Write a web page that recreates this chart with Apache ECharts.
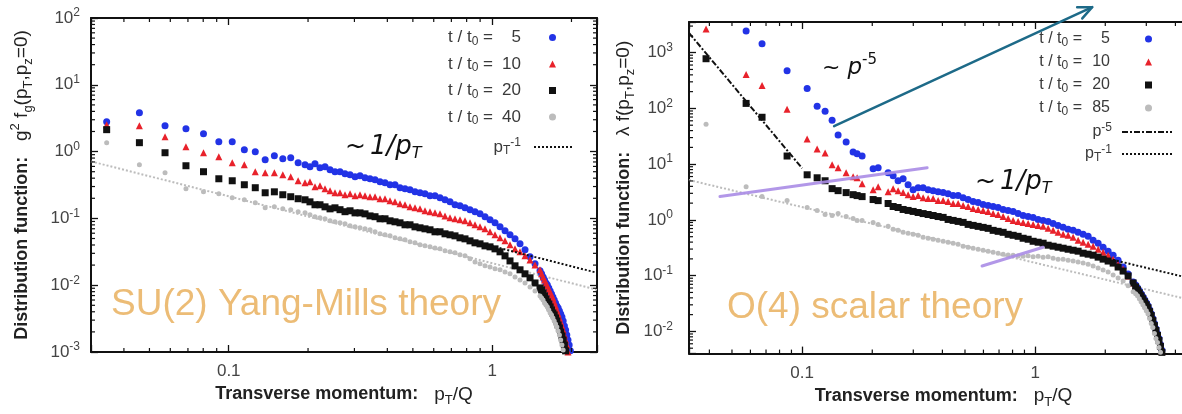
<!DOCTYPE html>
<html>
<head>
<meta charset="utf-8">
<script src="https://cdn.jsdelivr.net/npm/echarts@6/dist/echarts.min.js"></script>
<style>
  html, body { margin: 0; padding: 0; background: #fff; overflow: hidden; width: 1182px; height: 414px; }
  #chart { width: 1230px; height: 414px; }
</style>
</head>
<body>
<div id="chart"></div>
<script>
// ---------- SU(2) Yang-Mills panel: g^2 f_g(pT, pz=0) vs pT/Q ----------
const su2Momenta = [0.0344,0.0458,0.0573,0.0688,0.0802,0.0917,0.1031,0.1146,0.1261,0.1375,0.149,0.1604,0.1719,0.1834,
  0.1948,0.2034,0.2125,0.222,0.232,0.2424,0.2531,0.2645,0.2763,0.2887,0.3016,0.315,0.3291,0.3438,0.3592,0.3752,0.392,0.4095,0.4277,0.4468,
  0.4668,0.4876,0.5094,0.5322,0.5559,0.5808,0.6067,0.6339,0.6622,0.6918,0.7226,0.7548,0.7886,0.8238,0.8607,0.8992,0.9393,0.9813,1.0252,1.071,
  1.1189,1.1687,1.221,1.2756,1.3326,1.3922,1.4544,1.5191,
  1.54,1.56,1.58,1.6,1.62,1.64,1.66,1.68,1.7,1.72,1.74,1.76,1.78,1.8,1.82,1.84,1.86,1.88,1.9,1.92,1.94,1.96,1.98];

const su2T5 = [2.81,3.83,2.44,2.2,1.85,1.41,1.41,1.07,0.996,0.756,0.868,0.782,0.81,0.682,
  0.636,0.594,0.659,0.574,0.594,0.535,0.5,0.5,0.466,0.45,0.42,0.435,0.406,0.392,0.379,0.354,0.342,0.319,0.319,0.288,
  0.278,0.268,0.25,0.242,0.234,0.218,0.218,0.204,0.19,0.177,0.16,0.154,0.144,0.135,0.126,0.117,0.106,0.0953,0.0859,0.0748,
  0.0652,0.0568,0.0494,0.0416,0.0338,0.0266,0.0209,0.0164,
  0.0148,0.0133,0.012,0.0108,0.0101,0.00911,0.00821,0.00741,0.00668,0.00602,0.00543,0.00489,0.00457,0.00412,0.00371,0.00335,0.00291,0.00245,0.00214,0.0018,0.00151,0.00127,0.00104];

const su2T10 = [2.53,2.44,1.67,1.18,0.962,0.838,0.682,0.636,0.5,0.483,0.483,0.45,0.42,0.366,
  0.342,0.354,0.298,0.308,0.278,0.259,0.242,0.242,0.226,0.234,0.218,0.226,0.218,0.211,0.211,0.197,0.197,0.184,0.177,0.166,
  0.16,0.149,0.144,0.139,0.13,0.126,0.121,0.117,0.109,0.102,0.0987,0.0953,0.092,0.0859,0.0802,0.0748,0.0698,0.063,0.0568,0.0512,
  0.0461,0.0402,0.035,0.0316,0.0275,0.0239,0.0201,0.017,
  0.0148,0.0133,0.012,0.0108,0.00976,0.0088,0.00793,0.00715,0.00645,0.00562,0.00489,0.00426,0.00371,0.00323,0.00282,0.00245,0.00214,0.0018,0.00151,0.00127,0.001,null,null];

const su2T20 = [2.13,1.36,0.962,0.614,0.5,0.392,0.366,0.319,0.288,0.242,0.25,0.226,0.211,0.197,
  0.19,0.177,0.16,0.16,0.149,0.139,0.144,0.135,0.126,0.13,0.121,0.121,0.117,0.109,0.106,0.0987,0.0987,0.092,0.0889,0.0859,
  0.0802,0.0802,0.0748,0.0723,0.0698,0.0675,0.063,0.063,0.0588,0.0568,0.0548,0.0512,0.0494,0.0461,0.0431,0.0416,0.0388,0.0375,0.035,0.0316,
  0.0275,0.0231,0.0195,0.017,0.0148,0.0129,0.0108,0.00911,
  0.0085,0.00766,0.00691,0.00623,0.00562,0.00524,0.00473,0.00426,0.00384,0.00359,0.00323,0.00291,0.00254,0.00229,0.00199,0.00174,0.00151,0.00127,0.00104,null,null,null,null];

const su2T40 = [1.36,0.636,0.483,0.278,0.25,0.234,0.204,0.19,0.171,0.144,0.149,0.139,0.135,0.126,
  0.121,0.113,0.106,0.102,0.0987,0.092,0.0889,0.0859,0.083,0.0774,0.0748,0.0723,0.0698,0.0675,0.063,0.0588,0.0568,0.0548,0.0512,0.0494,
  0.0478,0.0446,0.0431,0.0402,0.0388,0.0375,0.0362,0.035,0.0327,0.0316,0.0305,0.0285,0.0275,0.0248,0.0223,0.0209,0.0195,0.0188,0.0176,0.017,
  0.0158,0.0148,0.0133,0.012,0.0108,0.00943,0.00821,0.00691,
  0.00645,0.00602,0.00543,0.00506,0.00473,0.00426,0.00384,0.00359,0.00323,0.00291,0.00263,0.00237,0.00206,0.0018,0.00151,0.00127,0.00107,null,null,null,null,null,null];

// 1/pT reference lines (end points)
const su2PowerLaw = [[0.9, 0.0427], [2.5, 0.01536]];
const su2PowerLawGuide = [[0.03, 0.713], [2.5, 0.00856]];

// ---------- O(4) scalar panel: lambda f(pT, pz=0) vs pT/Q ----------
const o4Momenta = [0.0387,0.0575,0.0673,0.0862,0.1051,0.116,0.1255,0.1345,0.1427,0.1545,0.1655,0.1722,0.1809,0.2017,0.212,0.2339,
  0.2458,0.2582,0.2713,0.285,0.2995,0.3147,0.3306,0.3474,0.3649,0.3834,0.4029,0.4232,0.4447,0.4672,0.4909,0.5158,0.5419,0.5694,0.5982,0.6285,
  0.6603,0.6938,0.729,0.7659,0.8047,0.8453,0.8882,0.9333,0.9804,1.0302,1.0822,1.1371,1.1947,1.2551,1.3188,1.3855,1.4558,1.5293,1.6069,1.6886,
  1.7738,1.8637,1.9578,2.0572,2.1616,2.2707,2.386,2.5065,2.6339,
  2.7,2.75,2.8,2.85,2.9,2.95,3.0,3.05,3.1,3.15,3.2,3.25,3.3,3.35,3.4,3.45,3.5,3.55];

const o4T5 = [null,2450,1440,476,228,109,88.8,61.4,33.2,24.9,16.6,15.3,14.0,8.25,8.59,7.0,
  6.19,5.04,5.48,4.28,3.49,3.79,3.79,3.49,3.35,3.21,3.09,2.96,2.73,2.73,2.51,2.32,2.13,2.05,1.89,1.81,
  1.74,1.67,1.54,1.48,1.42,1.3,1.2,1.15,1.11,1.02,0.98,0.94,0.866,0.798,0.735,0.677,0.65,0.599,0.552,0.508,
  0.432,0.382,0.324,0.275,0.233,0.19,0.143,0.107,0.0772,
  0.0683,0.0604,0.0534,0.0472,0.0418,0.0369,0.0327,0.0289,0.0245,0.0208,0.017,0.0138,0.0112,0.00917,0.00747,0.00584,0.00457,null];

const o4T10 = [2660,404,258,96.4,28.2,18.7,15.9,9.72,8.59,7.0,5.94,5.7,4.46,3.49,3.95,3.21,
  3.64,3.35,3.09,2.84,2.62,2.73,2.51,2.41,2.41,2.22,2.22,2.13,1.97,1.97,1.81,1.74,1.6,1.54,1.48,1.42,
  1.3,1.25,1.15,1.06,0.98,0.94,0.903,0.866,0.831,0.798,0.766,0.706,0.65,0.599,0.552,0.53,0.488,0.432,0.398,0.366,
  0.338,0.298,0.264,0.233,0.198,0.161,0.132,0.0988,0.0741,
  0.0656,0.0579,0.0513,0.0453,0.0401,0.0355,0.0314,0.0277,0.0235,0.02,0.0163,0.0133,0.0108,0.0088,0.00717,0.00561,0.00439,null];

const o4T20 = [779,123,69.4,14.0,6.45,5.7,5.04,3.64,3.35,3.09,2.84,2.73,2.62,2.32,2.22,1.97,
  1.74,1.67,1.54,1.48,1.42,1.36,1.3,1.25,1.2,1.15,1.11,1.02,0.98,0.94,0.903,0.831,0.798,0.766,0.735,0.706,
  0.65,0.624,0.599,0.552,0.53,0.508,0.469,0.45,0.414,0.398,0.382,0.352,0.338,0.324,0.311,0.298,0.286,0.275,0.253,0.243,
  0.233,0.215,0.198,0.183,0.168,0.143,0.121,0.0988,0.0741,
  0.0629,0.0556,0.0492,0.0435,0.0385,0.034,0.0301,0.0266,0.0226,0.0192,0.0156,0.0127,0.0104,0.00845,0.00688,0.00538,0.00421,null];

const o4T85 = [52.1,3.95,2.62,2.22,1.67,1.48,1.25,1.2,1.3,1.15,1.06,0.98,0.98,0.903,0.831,0.766,
  0.677,0.65,0.599,0.575,0.552,0.53,0.488,0.469,0.45,0.432,0.414,0.398,0.382,0.366,0.338,0.324,0.311,0.298,0.286,0.275,
  0.264,0.253,0.243,0.236,0.233,0.226,0.222,0.228,0.219,0.224,0.215,0.218,0.206,0.198,0.198,0.19,0.183,0.175,0.168,0.161,
  0.149,0.137,0.126,0.116,0.103,0.091,0.0804,0.0656,0.0513,
  0.0472,0.0435,0.0385,0.034,0.0301,0.0266,0.0235,0.0208,0.017,0.0138,0.0117,0.00917,0.00747,0.00634,0.00517,0.00421,null,null];

// p^-5 and 1/pT reference lines (end points)
const o4P5Law = [[0.0327, 2260], [0.1, 8.45]];
const o4PowerLaw = [[1.0, 0.415], [5, 0.083]];
const o4PowerLawGuide = [[0.0327, 5.2], [5, 0.034]];

// annotation strokes: [x1, y1, x2, y2] in data units
const o4VioletStrokes = [[0.0444, 2.62, 0.344, 8.6], [0.592, 0.149, 1.082, 0.324]];
const o4Arrow = [[0.1372, 48.0, 1.757, 6556]];

// decades that carry a tick label
const su2XDecades = [0.1, 1];
const su2YDecades = [0.001, 0.01, 0.1, 1, 10, 100];
const o4XDecades = [0.1, 1];
const o4YDecades = [0.01, 0.1, 1, 10, 100, 1000];

// ---------- helpers ----------
const W = 1230;
const BLUE = '#2233e6', RED = '#e8222b', BLACK = '#111111', GREY = '#bcbcbc';

function pairs(xs, ys) {
  const out = [];
  for (let i = 0; i < xs.length; i++) if (ys[i] != null) out.push([xs[i], ys[i]]);
  return out;
}
function isDecade(v, list) {
  return list.some(d => Math.abs(v / d - 1) < 1e-6);
}
function minorValues(lo, hi) {
  const out = [];
  for (let e = Math.floor(Math.log10(lo)); e <= Math.ceil(Math.log10(hi)); e++) {
    for (let m = 2; m <= 9; m++) {
      const v = m * Math.pow(10, e);
      if (v > lo * 1.001 && v < hi * 0.999) out.push(v);
    }
  }
  return out;
}

const labelRich = {
  sup: { fontSize: 12, lineHeight: 12, verticalAlign: 'top', color: '#444', fontFamily: 'Liberation Sans' }
};
function yLabel(list) {
  return v => {
    if (!isDecade(v, list)) return '';
    const e = Math.round(Math.log10(v));
    return '10{sup|' + e + '}';
  };
}
function xLabel(list) {
  return v => isDecade(v, list) ? String(+v.toPrecision(3)) : '';
}

const nameRich = {
  b: { fontSize: 18, fontWeight: 'bold', color: '#222', fontFamily: 'Liberation Sans', lineHeight: 26 },
  r: { fontSize: 19, color: '#222', fontFamily: 'Liberation Sans', lineHeight: 26 },
  sb: { fontSize: 13, color: '#222', fontFamily: 'Liberation Sans', lineHeight: 12, verticalAlign: 'bottom' },
  sp: { fontSize: 13, color: '#222', fontFamily: 'Liberation Sans', lineHeight: 12, verticalAlign: 'top' }
};

function makeAxes(gi, xr, yr, xDec, yDec, xName, yName, xGap, yGap, yMargin) {
  const line = { show: true, onZero: false, lineStyle: { color: '#111', width: 2 } };
  const tick = { show: true, inside: true, length: 7, lineStyle: { color: '#111', width: 1.3 } };
  const xs = [
    { type: 'log', gridIndex: gi, min: xr[0], max: xr[1], position: 'bottom', axisLine: line, axisTick: tick,
      splitLine: { show: false }, minorTick: { show: false },
      axisLabel: { formatter: xLabel(xDec), fontSize: 17, color: '#444', margin: 11, fontFamily: 'Liberation Sans' },
      name: xName, nameLocation: 'middle', nameGap: xGap, nameTextStyle: { rich: nameRich } },
    { type: 'log', gridIndex: gi, min: xr[0], max: xr[1], position: 'top', axisLine: line, axisTick: tick,
      splitLine: { show: false }, axisLabel: { show: false } }
  ];
  const ys = [
    { type: 'log', gridIndex: gi, min: yr[0], max: yr[1], position: 'left', axisLine: line, axisTick: tick,
      splitLine: { show: false },
      axisLabel: { formatter: yLabel(yDec), fontSize: 17, lineHeight: 22, color: '#444', margin: yMargin, fontFamily: 'Liberation Sans', rich: labelRich },
      name: yName, nameLocation: 'middle', nameGap: yGap, nameTextStyle: { rich: nameRich } },
    { type: 'log', gridIndex: gi, min: yr[0], max: yr[1], position: 'right', axisLine: line, axisTick: tick,
      splitLine: { show: false }, axisLabel: { show: false } }
  ];
  return { xs, ys };
}

// short inward ticks at 2..9 x each decade, on all four sides of a grid
function minorTickSeries(xi, yi, xr, yr, refX, refY) {
  const data = minorValues(xr[0], xr[1]).map(v => [v, refY, 0])
    .concat(minorValues(yr[0], yr[1]).map(v => [refX, v, 1]));
  return {
    type: 'custom', xAxisIndex: xi, yAxisIndex: yi, silent: true, clip: false, z: 6,
    data, encode: { x: 0, y: 1 },
    renderItem(params, api) {
      const cs = params.coordSys;
      const p = api.coord([api.value(0), api.value(1)]);
      const len = 4, st = { stroke: '#111', lineWidth: 1.2 };
      if (api.value(2) === 0) {
        return { type: 'group', children: [
          { type: 'line', shape: { x1: p[0], y1: cs.y + cs.height, x2: p[0], y2: cs.y + cs.height - len }, style: st },
          { type: 'line', shape: { x1: p[0], y1: cs.y, x2: p[0], y2: cs.y + len }, style: st }
        ] };
      }
      return { type: 'group', children: [
        { type: 'line', shape: { x1: cs.x, y1: p[1], x2: cs.x + len, y2: p[1] }, style: st },
        { type: 'line', shape: { x1: cs.x + cs.width, y1: p[1], x2: cs.x + cs.width - len, y2: p[1] }, style: st }
      ] };
    }
  };
}

// straight strokes and an open-headed arrow drawn in data coordinates
function strokeSeries(xi, yi, rows, color, width, withHead) {
  return {
    type: 'custom', xAxisIndex: xi, yAxisIndex: yi, silent: true, clip: false, z: 8,
    data: rows, encode: { x: [0, 2], y: [1, 3] },
    renderItem(params, api) {
      const a = api.coord([api.value(0), api.value(1)]);
      const b = api.coord([api.value(2), api.value(3)]);
      const st = { stroke: color, lineWidth: width, fill: null, lineCap: 'round', lineJoin: 'round' };
      const children = [{ type: 'line', shape: { x1: a[0], y1: a[1], x2: b[0], y2: b[1] }, style: st }];
      if (withHead) {
        const ang = Math.atan2(b[1] - a[1], b[0] - a[0]);
        const L = 15, spread = 0.42;
        const p1 = [b[0] - L * Math.cos(ang - spread), b[1] - L * Math.sin(ang - spread)];
        const p2 = [b[0] - L * Math.cos(ang + spread), b[1] - L * Math.sin(ang + spread)];
        children.push({ type: 'polyline', shape: { points: [p1, b, p2] }, style: st });
      }
      return { type: 'group', children };
    }
  };
}

function scatter(name, xs, ys, xi, yi, symbol, size, color) {
  return { name, type: 'scatter', xAxisIndex: xi, yAxisIndex: yi, data: pairs(xs, ys),
    symbol, symbolSize: size, itemStyle: { color, opacity: 1 }, silent: true, z: 3 };
}
function refLine(name, data, xi, yi, color, dash, z) {
  return { name, type: 'line', xAxisIndex: xi, yAxisIndex: yi, data, symbol: 'none', showSymbol: false,
    lineStyle: { color, width: 2, type: dash }, itemStyle: { color }, silent: true, z: z || 2, animation: false };
}

// ---------- ranges ----------
const su2X = [0.03, 2.5], su2Y = [0.001, 100];
const o4X = [0.0327, 5], o4Y = [0.004, 3550];

const A1 = makeAxes(0, su2X, su2Y, su2XDecades, su2YDecades,
  '{b|Transverse momentum:}{r|   p}{sb|T}{r|/Q}',
  '{b|Distribution function:}{r|   g}{sp|2}{r| f}{sb|g}{r|(p}{sb|T}{r|,p}{sb|z}{r|=0)}', 29, 56, 11);
const A2 = makeAxes(1, o4X, o4Y, o4XDecades, o4YDecades,
  '{b|Transverse momentum:}{r|   p}{sb|T}{r|/Q}',
  '{b|Distribution function:}{r|   λ f(p}{sb|T}{r|,p}{sb|z}{r|=0)}', 26, 52, 16);

// ---------- legends ----------
function legendRich(size) {
  const c = '#3a3a3a', f = 'Liberation Sans';
  return {
    t: { fontSize: size, color: c, fontFamily: f, lineHeight: 20 },
    s: { fontSize: 12, color: c, fontFamily: f, lineHeight: 10, verticalAlign: 'bottom' },
    u: { fontSize: 12, color: c, fontFamily: f, lineHeight: 10, verticalAlign: 'top' },
    n: { fontSize: size, color: c, fontFamily: f, lineHeight: 20, width: 28, align: 'right' },
    g1: { width: 23 }, g2: { width: 30 }, g3: { width: 8 }, g4: { width: 5 }
  };
}
const legendText = {
  su2_5: '{t|t / t}{s|0}{t| =}{n|5}{g1|}',
  su2_10: '{t|t / t}{s|0}{t| =}{n|10}{g1|}',
  su2_20: '{t|t / t}{s|0}{t| =}{n|20}{g1|}',
  su2_40: '{t|t / t}{s|0}{t| =}{n|40}{g1|}',
  su2_fit: '{t|p}{s|T}{u|-1}{g3|}',
  o4_5: '{t|t / t}{s|0}{t| =}{n|5}{g2|}',
  o4_10: '{t|t / t}{s|0}{t| =}{n|10}{g2|}',
  o4_20: '{t|t / t}{s|0}{t| =}{n|20}{g2|}',
  o4_85: '{t|t / t}{s|0}{t| =}{n|85}{g2|}',
  o4_p5: '{t|p}{u|-5}{g4|}',
  o4_fit: '{t|p}{s|T}{u|-1}{g4|}'
};
function legend(names, right, top, iw, ih, gap, size, lineOnly) {
  const data = names.map(n => lineOnly ? { name: n, itemStyle: { opacity: 0 } } : { name: n });
  return { orient: 'vertical', align: 'right', right, top, itemWidth: iw, itemHeight: ih, itemGap: gap,
    data, selectedMode: false, padding: 0,
    formatter: n => legendText[n], textStyle: { rich: legendRich(size) } };
}

const option = {
  animation: false,
  backgroundColor: '#fff',
  grid: [
    { left: 91, top: 18, width: 506, height: 334, show: false },
    { left: 689, top: 22, width: 509, height: 334, show: false }
  ],
  xAxis: A1.xs.concat(A2.xs),
  yAxis: A1.ys.concat(A2.ys),
  legend: [
    legend(['su2_5', 'su2_10', 'su2_20', 'su2_40'], W - 556, 29, 7, 7, 8, 17, false),
    legend(['su2_fit'], W - 575, 137, 40, 2, 0, 17, true),
    legend(['o4_5', 'o4_10', 'o4_20', 'o4_85'], W - 1152, 31, 7, 7, 5, 16, false),
    legend(['o4_p5', 'o4_fit'], W - 1173, 122, 50, 2, 4, 16, true)
  ],
  series: [
    refLine('su2_guide', su2PowerLawGuide, 0, 0, GREY, [2, 2], 2),
    scatter('su2_5', su2Momenta, su2T5, 0, 0, 'circle', 7, BLUE),
    scatter('su2_10', su2Momenta, su2T10, 0, 0, 'triangle', 7, RED),
    scatter('su2_20', su2Momenta, su2T20, 0, 0, 'rect', 7, BLACK),
    scatter('su2_40', su2Momenta, su2T40, 0, 0, 'circle', 5, GREY),
    refLine('su2_fit', su2PowerLaw, 0, 0, BLACK, [2, 2], 4),
    minorTickSeries(0, 0, su2X, su2Y, 1, 1),

    refLine('o4_guide', o4PowerLawGuide, 2, 2, GREY, [2, 2], 2),
    scatter('o4_5', o4Momenta, o4T5, 2, 2, 'circle', 7, BLUE),
    scatter('o4_10', o4Momenta, o4T10, 2, 2, 'triangle', 7, RED),
    scatter('o4_20', o4Momenta, o4T20, 2, 2, 'rect', 7, BLACK),
    scatter('o4_85', o4Momenta, o4T85, 2, 2, 'circle', 5, GREY),
    refLine('o4_p5', o4P5Law, 2, 2, BLACK, [6, 2, 2, 2], 4),
    refLine('o4_fit', o4PowerLaw, 2, 2, BLACK, [2, 2], 4),
    minorTickSeries(2, 2, o4X, o4Y, 1, 1),
    strokeSeries(2, 2, o4VioletStrokes, 'rgba(170,140,230,0.9)', 3, false),
    strokeSeries(2, 2, o4Arrow, '#1d6a88', 2.5, true)
  ],
  graphic: [
    { type: 'text', x: 111, y: 305, z: 10, silent: true,
      style: { text: 'SU(2) Yang-Mills theory', fontSize: 37, fontFamily: 'Liberation Sans', fill: '#ecbc76', verticalAlign: 'middle' } },
    { type: 'text', x: 727, y: 308, z: 10, silent: true,
      style: { text: 'O(4) scalar theory', fontSize: 37, fontFamily: 'Liberation Sans', fill: '#ecbc76', verticalAlign: 'middle' } },
    { type: 'text', x: 345, y: 147, z: 10, silent: true,
      style: { text: '{a|~}{i|1/p}{s|T}', verticalAlign: 'middle',
        rich: { a: { fontSize: 25, fontFamily: 'DejaVu Sans', fill: '#111', lineHeight: 30, padding: [0, 4, 0, 0] },
                i: { fontSize: 26, fontFamily: 'DejaVu Sans', fontStyle: 'italic', fill: '#111', lineHeight: 30 },
                s: { fontSize: 16, fontFamily: 'DejaVu Sans', fontStyle: 'italic', fill: '#111', lineHeight: 14, verticalAlign: 'bottom' } } } },
    { type: 'text', x: 975, y: 182, z: 10, silent: true,
      style: { text: '{a|~}{i|1/p}{s|T}', verticalAlign: 'middle',
        rich: { a: { fontSize: 25, fontFamily: 'DejaVu Sans', fill: '#111', lineHeight: 30, padding: [0, 4, 0, 0] },
                i: { fontSize: 26, fontFamily: 'DejaVu Sans', fontStyle: 'italic', fill: '#111', lineHeight: 30 },
                s: { fontSize: 16, fontFamily: 'DejaVu Sans', fontStyle: 'italic', fill: '#111', lineHeight: 14, verticalAlign: 'bottom' } } } },
    { type: 'text', x: 822, y: 68, z: 10, silent: true,
      style: { text: '{a|~ }{i|p}{u|-5}', verticalAlign: 'middle',
        rich: { a: { fontSize: 22, fontFamily: 'DejaVu Sans', fill: '#111', lineHeight: 30 },
                i: { fontSize: 23, fontFamily: 'DejaVu Sans', fontStyle: 'italic', fill: '#111', lineHeight: 30 },
                u: { fontSize: 15, fontFamily: 'DejaVu Sans', fill: '#111', lineHeight: 14, verticalAlign: 'top' } } } }
  ]
};

const chart = echarts.init(document.getElementById('chart'), null, { renderer: 'canvas' });
chart.setOption(option);
</script>
</body>
</html>
